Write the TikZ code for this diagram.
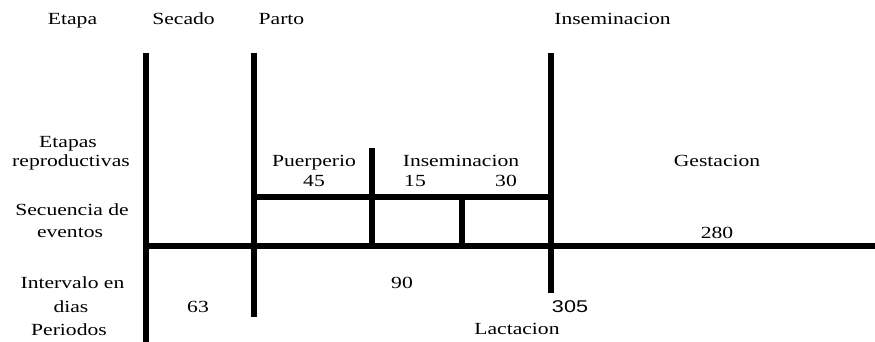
\documentclass[tikz,border=0pt]{standalone}
\usepackage{fontspec}
\setmainfont[FakeStretch=1.27]{Liberation Serif}
\newfontfamily\digsans[FakeStretch=1.27]{Liberation Sans}
\begin{document}
\begin{tikzpicture}[x=1pt,y=-1pt,
  bar/.style={line width=6pt,line cap=butt},
  lbl/.style={anchor=base,inner sep=0pt,font=\fontsize{17}{19}\selectfont}]
\useasboundingbox (0,0) rectangle (875,342);
% coordinates
\coordinate (v1t) at (146,53);  \coordinate (v1b) at (146,342);
\coordinate (v2t) at (253.5,53); \coordinate (v2b) at (253.5,317);
\coordinate (v3t) at (372,148);  \coordinate (v3b) at (372,246);
\coordinate (v4t) at (550.5,53); \coordinate (v4b) at (550.5,293);
\coordinate (v5t) at (461.5,197); \coordinate (v5b) at (461.5,246);
\coordinate (hul) at (253.5,197); \coordinate (hur) at (550.5,197);
\coordinate (hml) at (143,246);  \coordinate (hmr) at (875,246);
% bars
\draw[bar] (v1t) -- (v1b);
\draw[bar] (v2t) -- (v2b);
\draw[bar] (v3t) -- (v3b);
\draw[bar] (v4t) -- (v4b);
\draw[bar] (v5t) -- (v5b);
\draw[bar] (hul) -- (hur);
\draw[bar] (hml) -- (hmr);
% labels
\node[lbl] (etapa) at (72.5,25) {Etapa};
\node[lbl] (secado) at (183.5,25) {Secado};
\node[lbl] (parto) at (281.5,25) {Parto};
\node[lbl] (insemtop) at (612.5,25) {Inseminacion};
\node[lbl] (etapas) at (68,147) {Etapas};
\node[lbl] (reprod) at (71,166) {reproductivas};
\node[lbl] (puerp) at (314,166) {Puerperio};
\node[lbl] (insemmid) at (461,166) {Inseminacion};
\node[lbl] (gest) at (717,166) {Gestacion};
\node[lbl] (n45) at (314,186) {45};
\node[lbl] (n15) at (415,186) {15};
\node[lbl] (n30) at (506,186) {30};
\node[lbl] (secu) at (72,215) {Secuencia de};
\node[lbl] (event) at (70,237) {eventos};
\node[lbl] (n280) at (717,238) {280};
\node[lbl] (interv) at (72.5,288) {Intervalo en};
\node[lbl] (n90) at (402,288) {90};
\node[lbl] (dias) at (71,312) {dias};
\node[lbl] (n63) at (198,312) {63};
\node[lbl,font=\digsans\fontsize{17}{19}\selectfont] (n305) at (570,312) {305};
\node[lbl] (period) at (69,335) {Periodos};
\node[lbl] (lact) at (517,334) {Lactacion};
\end{tikzpicture}
\end{document}
